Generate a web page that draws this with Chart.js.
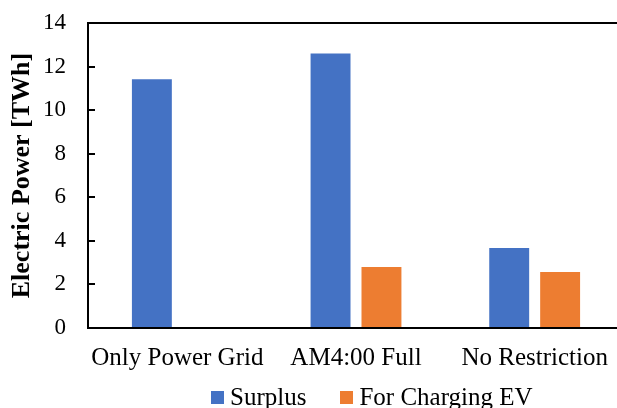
<!DOCTYPE html>
<html>
<head>
<meta charset="utf-8">
<script src="https://cdn.jsdelivr.net/npm/chart.js@4"></script>
<style>
html,body{margin:0;padding:0;background:#fff;overflow:hidden;width:617px;height:408px;}
#wrap{position:relative;width:624px;height:408px;}
#legend{position:absolute;left:211px;top:383.5px;display:flex;align-items:center;
  font-family:'Liberation Serif','Times New Roman',serif;font-size:25px;line-height:25px;color:#000;white-space:nowrap;}
#legend .item{display:flex;align-items:center;margin-right:34px;}
#legend .box{width:13px;height:13px;margin-right:6px;margin-top:2px;}
</style>
</head>
<body>
<div id="wrap">
<canvas id="chart" width="624" height="408"></canvas>
<div id="legend"></div>
</div>
<script>
const categories=["Only Power Grid","AM4:00 Full","No Restriction"];
const surplus=[11.42,12.6,3.67];
const forCharging=[0,2.8,2.57];
const seriesNames=["Surplus","For Charging EV"];
const colors=["#4472C4","#ED7D31"];

const serif="'Liberation Serif','Times New Roman',serif";

// inward tick marks on the y axis
const innerTicks={
    id:"innerTicks",
    afterDraw(chart){
        const y=chart.scales.y, ctx=chart.ctx;
        ctx.save();
        ctx.strokeStyle="#000";
        ctx.lineWidth=2;
        y.ticks.forEach(t=>{
            const py=Math.round(y.getPixelForValue(t.value));
            ctx.beginPath();
            ctx.moveTo(y.right,py);
            ctx.lineTo(y.right+7,py);
            ctx.stroke();
        });
        ctx.restore();
    }
};

const chart=new Chart(document.getElementById("chart"),{
    type:"bar",
    data:{
        labels:categories,
        datasets:[
            {label:seriesNames[0],data:surplus,backgroundColor:colors[0]},
            {label:seriesNames[1],data:forCharging,backgroundColor:colors[1]}
        ]
    },
    options:{
        responsive:false,
        animation:false,
        devicePixelRatio:1,
        layout:{padding:{top:23,right:0,bottom:20,left:0}},
        categoryPercentage:0.57,
        barPercentage:0.784,
        plugins:{legend:{display:false},tooltip:{enabled:false}},
        scales:{
            x:{
                grid:{display:false,drawTicks:false},
                border:{color:"#000",width:2},
                ticks:{color:"#000",padding:15,font:{family:serif,size:25},maxRotation:0}
            },
            y:{
                min:0,max:14,
                afterFit:s=>{s.width=88;s.paddingTop=0;s.paddingBottom=0;},
                ticks:{stepSize:2,color:"#000",padding:22,font:{family:serif,size:23}},
                grid:{
                    drawTicks:false,
                    lineWidth:2,
                    color:c=>c.tick&&c.tick.value===14?"#000":"rgba(0,0,0,0)"
                },
                border:{color:"#000",width:2},
                title:{display:true,text:"Electric Power [TWh]",color:"#000",
                    font:{family:serif,size:26,weight:"bold"},padding:{top:7,bottom:5}}
            }
        }
    },
    plugins:[innerTicks]
});

// legend built from the datasets
const leg=document.getElementById("legend");
chart.data.datasets.forEach(d=>{
    const it=document.createElement("div");
    it.className="item";
    const b=document.createElement("div");
    b.className="box";
    b.style.background=d.backgroundColor;
    const s=document.createElement("span");
    s.innerText=d.label;
    it.appendChild(b);it.appendChild(s);
    leg.appendChild(it);
});
</script>
</body>
</html>
